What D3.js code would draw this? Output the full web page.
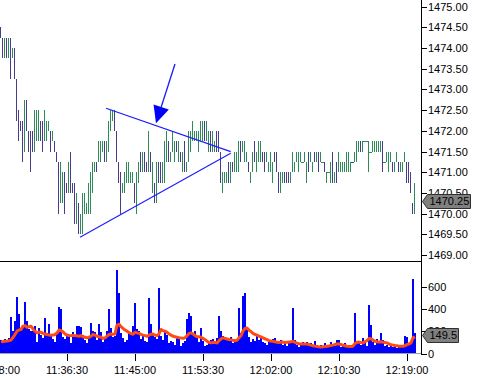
<!DOCTYPE html>
<html><head><meta charset="utf-8">
<script src="https://cdn.jsdelivr.net/npm/d3@7/dist/d3.min.js"></script>
<style>
html,body{margin:0;padding:0;background:#fff;}
svg{display:block;font-family:"Liberation Sans",Arial,sans-serif;}
</style></head>
<body><svg id="c" width="477" height="378"></svg>
<script>
// ---------- DATA ----------
const firstBarTime = "11:28:15";
const barSeconds = 15;
const highs = [
1474.50,1474.25,1474.25,1474.25,1474.25,1474.25,1474.00,1474.00,1473.25,1472.50,
1472.25,1472.25,1472.75,1472.75,1472.00,1472.00,1472.00,1472.50,1472.50,1472.50,
1472.25,1472.25,1472.50,1472.25,1472.25,1472.00,1472.00,1471.75,1471.50,1471.25,
1471.25,1471.00,1471.00,1470.75,1471.25,1471.50,1470.75,1470.75,1470.50,1470.25,
1470.00,1470.50,1470.50,1470.25,1470.75,1471.00,1471.25,1471.25,1471.25,1471.75,
1471.75,1471.75,1471.75,1471.75,1472.25,1472.50,1472.50,1472.50,1472.00,1471.25,
1471.00,1470.75,1471.00,1471.25,1471.25,1471.00,1471.00,1470.75,1471.00,1471.25,
1471.50,1471.50,1471.50,1471.25,1472.00,1471.50,1471.25,1470.75,1471.25,1471.25,
1471.25,1471.25,1471.75,1472.00,1471.75,1471.50,1472.00,1471.75,1471.75,1471.75,
1471.50,1471.50,1471.75,1471.25,1472.00,1472.00,1472.25,1472.00,1472.00,1472.00,
1472.25,1472.25,1472.25,1472.25,1472.00,1472.00,1472.00,1471.75,1472.00,1472.00,
1471.50,1471.00,1471.00,1471.00,1471.25,1471.25,1471.25,1471.50,1471.50,1471.75,
1471.75,1471.75,1471.75,1471.50,1471.25,1471.00,1471.50,1471.75,1471.50,1471.75,
1471.75,1471.50,1471.50,1471.50,1471.25,1471.50,1471.25,1471.50,1471.50,1471.00,
1471.00,1471.00,1471.00,1471.00,1471.00,1471.00,1471.50,1471.25,1471.50,1471.50,
1471.50,1471.25,1471.50,1471.25,1471.50,1471.50,1471.25,1471.50,1471.50,1471.50,
1471.50,1471.25,1471.25,1471.00,1471.00,1471.25,1471.50,1471.00,1471.25,1471.50,
1471.25,1471.25,1471.25,1471.50,1471.50,1471.25,1471.25,1471.50,1471.75,1471.75,
1471.75,1471.75,1471.75,1471.75,1471.75,1471.50,1471.75,1471.75,1471.75,1471.75,
1471.75,1471.75,1471.25,1471.50,1471.50,1471.50,1471.25,1471.25,1471.50,1471.25,
1471.25,1471.25,1471.50,1471.25,1471.25,1471.00,1470.25,1470.75];
const lows = [
1474.25,1473.75,1473.75,1473.75,1473.75,1473.25,1473.75,1473.25,1472.25,1471.75,
1472.00,1471.25,1471.50,1472.00,1471.50,1471.00,1471.50,1471.50,1471.75,1471.75,
1471.75,1471.50,1471.75,1471.75,1472.00,1471.50,1471.75,1471.50,1471.25,1470.00,
1470.25,1470.25,1470.00,1470.50,1470.50,1470.50,1470.50,1469.75,1469.75,1469.50,
1469.50,1469.50,1470.00,1470.00,1470.00,1470.00,1470.50,1471.00,1471.00,1471.25,
1471.25,1471.50,1471.25,1471.25,1471.50,1472.00,1472.25,1472.00,1471.25,1470.75,
1470.00,1470.50,1470.50,1470.75,1470.75,1470.75,1470.75,1470.25,1470.00,1470.75,
1471.00,1471.00,1471.00,1471.00,1471.00,1471.00,1470.50,1470.25,1470.25,1470.75,
1470.75,1470.75,1470.75,1471.25,1471.25,1471.25,1471.50,1471.25,1471.50,1471.25,
1471.25,1471.00,1471.00,1471.00,1471.25,1471.50,1471.75,1471.75,1471.75,1471.50,
1471.75,1471.75,1471.75,1471.75,1471.50,1471.50,1471.50,1471.50,1471.50,1471.50,
1470.75,1470.50,1470.75,1470.75,1470.75,1470.75,1471.00,1471.00,1471.00,1471.00,
1471.25,1471.50,1471.25,1471.25,1471.00,1470.75,1471.00,1471.25,1471.00,1471.25,
1471.25,1471.25,1471.00,1471.25,1471.00,1471.00,1470.75,1471.25,1471.00,1470.50,
1470.50,1470.75,1470.75,1470.75,1470.75,1470.75,1471.00,1471.00,1471.25,1471.00,
1471.25,1471.25,1471.25,1470.75,1471.00,1471.25,1471.00,1471.25,1471.25,1471.00,
1471.25,1471.25,1471.00,1470.75,1471.00,1470.75,1470.75,1470.75,1470.75,1471.00,
1471.00,1471.00,1471.00,1471.00,1471.00,1471.00,1471.25,1471.25,1471.25,1471.50,
1471.50,1471.50,1471.75,1471.75,1471.00,1471.50,1471.50,1471.50,1471.50,1471.50,
1471.50,1471.00,1471.25,1471.25,1471.00,1471.25,1471.00,1471.00,1471.25,1471.00,
1471.00,1471.00,1471.25,1470.75,1470.75,1470.50,1470.00,1470.00];
// direction per bar: u = close up (green), d = close down (purple)
const barDirections = [
"d","d","u","d","u","d","u","d","d","d",
"d","d","u","d","d","d","d","u","u","u",
"d","d","u","u","u","d","u","d","d","d",
"u","u","d","d","u","d","d","d","u","d",
"u","u","u","u","u","u","u","u","d","u",
"u","u","d","u","u","u","u","d","d","d",
"d","u","u","u","u","u","u","d","u","u",
"d","u","d","d","u","d","u","d","u","d",
"d","u","u","u","d","u","u","u","d","u",
"d","u","d","u","u","u","u","u","u","u",
"u","u","d","u","u","d","u","u","d","d",
"d","u","u","u","d","u","d","u","u","u",
"d","u","u","u","d","u","u","d","u","u",
"u","d","d","u","u","u","u","d","d","d",
"u","u","d","d","d","u","u","u","u","u",
"u","u","u","u","d","u","u","d","u","d",
"u","u","d","u","u","u","d","u","d","u",
"u","u","u","u","u","u","d","u","u","u",
"d","u","u","u","u","u","u","u","u","u",
"u","d","u","u","u","u","d","u","u","d",
"u","u","u","d","d","d","d","u"];
const volumes = [
120,110,130,100,140,330,200,290,510,350,
230,250,465,290,215,200,200,245,100,230,
170,140,320,180,260,160,130,100,180,415,
400,150,130,170,150,90,190,160,245,245,
240,170,120,90,150,275,200,190,120,260,
190,100,130,200,395,230,150,160,752,540,
180,140,100,120,190,170,250,455,220,200,
130,170,110,100,500,260,180,150,130,590,
160,120,190,170,90,110,100,80,150,130,
70,90,110,305,365,335,170,200,140,100,
230,110,70,80,100,120,130,90,140,335,
200,160,140,120,130,150,90,110,120,410,
180,513,543,233,150,100,130,110,170,120,
140,100,90,80,100,120,130,140,110,100,
120,80,90,70,110,100,410,120,80,60,
90,100,80,100,70,90,80,110,70,60,
80,70,90,60,80,100,80,70,125,120,
60,70,90,80,60,70,80,364,90,100,
80,140,90,70,438,253,100,80,130,90,
188,120,70,80,60,70,60,80,50,70,
60,80,155,150,90,100,671,188];
const volumeAverage = [
105,107,110,112,115,120,145,170,200,210,
215,245,250,235,240,245,220,200,185,190,
190,180,175,170,165,163,165,170,185,210,
205,195,175,165,162,160,162,160,158,155,
160,150,145,140,145,155,170,165,155,150,
145,135,140,155,170,175,172,175,255,262,
240,225,210,200,188,178,172,190,185,180,
172,165,160,155,165,172,175,165,160,175,
215,205,200,190,175,165,155,150,145,142,
140,135,140,160,180,185,175,160,150,150,
145,135,125,110,100,95,100,98,95,115,
130,140,135,130,125,122,118,115,118,140,
160,200,225,228,210,195,180,170,165,155,
148,140,132,125,115,112,110,105,100,98,
100,102,98,100,102,105,110,100,92,88,
85,86,86,84,80,75,70,66,63,60,
58,60,62,65,68,72,75,80,85,87,
80,75,70,65,62,62,65,90,100,102,
98,95,105,115,135,132,120,110,105,102,
105,102,98,95,85,78,75,72,70,66,
65,65,70,80,85,95,140,149.5];
const priceTicks = [1469.0,1469.5,1470.0,1470.5,1471.0,1471.5,1472.0,1472.5,1473.0,1473.5,1474.0,1474.5,1475.0];
const volumeTicks = [0,200,400,600];
const timeTicks = ["11:28:00","11:36:30","11:45:00","11:53:30","12:02:00","12:10:30","12:19:00"];
const lastPrice = 1470.25;
const lastAverage = 149.5;
// drawn annotations (time, price)
const trendUpper = [["11:41:26.25",1472.546],["11:57:01.5",1471.498]];
const trendLower = [["11:38:11.25",1469.43],["11:57:01.5",1471.459]];
const arrowPts = [["11:50:03.75",1473.616],["11:47:41.25",1472.184]];

// ---------- DRAW ----------
const parseT = s => { const p = s.split(":"); return new Date(2000,0,1,+p[0],+p[1],0,Math.round(+p[2]*1000)); };
const t0 = parseT(firstBarTime);
const barTime = i => new Date(t0.getTime() + i*barSeconds*1000);

const svg = d3.select("#c");
svg.append("rect").attr("width",477).attr("height",378).attr("fill","#fff");

const axisX = 421.5;
const x = d3.scaleTime().domain([parseT("11:28:11.25"), parseT("12:20:48.75")]).range([0,421]);
const yP = d3.scaleLinear().domain([1469,1475]).range([255,6.7]);
const yV = d3.scaleLinear().domain([0,600]).range([353.5,286.5]);

const GREEN="#2e8b57", PURPLE="#483d8b";

// price bars
const gP = svg.append("g").attr("shape-rendering","crispEdges");
highs.forEach((h,i)=>{
  const l = lows[i];
  const px = Math.floor(x(barTime(i)));
  const col = barDirections[i]==="u"?GREEN:PURPLE;
  if (h===l) {
    gP.append("rect").attr("x",px-1).attr("y",Math.round(yP(h))).attr("width",3).attr("height",1).attr("fill",col);
  } else {
    const y1 = Math.round(yP(h)), y2 = Math.round(yP(l));
    gP.append("rect").attr("x",px).attr("y",y1).attr("width",1).attr("height",y2-y1).attr("fill",col);
  }
});

// trend lines
const line2 = d3.line().x(d=>x(parseT(d[0]))).y(d=>yP(d[1]));
[trendUpper,trendLower].forEach(t=>{
  svg.append("path").attr("d",line2(t)).attr("fill","none").attr("stroke","#1a1aff").attr("stroke-width",1.1);
});
// arrow
{
  const a = arrowPts.map(d=>[x(parseT(d[0])), yP(d[1])]);
  const dx=a[1][0]-a[0][0], dy=a[1][1]-a[0][1], L=Math.hypot(dx,dy), ux=dx/L, uy=dy/L;
  const hl=17, hw=8;
  const bx=a[1][0]-ux*hl, by=a[1][1]-uy*hl;
  svg.append("line").attr("x1",a[0][0]).attr("y1",a[0][1]).attr("x2",bx).attr("y2",by)
    .attr("stroke","#1a1aff").attr("stroke-width",1.3);
  svg.append("path").attr("d",`M${a[1][0]},${a[1][1]}L${bx-uy*hw},${by+ux*hw}L${bx+uy*hw},${by-ux*hw}Z`)
    .attr("fill","#0000ff");
}

// separator
svg.append("line").attr("x1",0).attr("x2",axisX).attr("y1",261.5).attr("y2",261.5)
  .attr("stroke","#000").attr("shape-rendering","crispEdges");

// volume bars
const gV = svg.append("g").attr("shape-rendering","crispEdges");
volumes.forEach((v,i)=>{
  const px = Math.floor(x(barTime(i)));
  gV.append("rect").attr("x",px).attr("y",yV(v)).attr("width",2).attr("height",yV(0)-yV(v)).attr("fill","#0000ff");
});
// average line
svg.append("path").datum(volumeAverage)
  .attr("d",d3.line().x((d,i)=>x(barTime(i))+0.5).y(d=>yV(d)))
  .attr("fill","none").attr("stroke","#ff4a12").attr("stroke-width",3).attr("stroke-linejoin","round");

// bottom axis line
svg.append("line").attr("x1",0).attr("x2",axisX).attr("y1",353.5).attr("y2",353.5)
  .attr("stroke","#a0a0a0").attr("stroke-width",1.5).attr("shape-rendering","crispEdges");

// time axis
const gX = svg.append("g").attr("transform","translate(0,354)")
  .call(d3.axisBottom(x).tickValues(timeTicks.map(parseT)).tickFormat(d3.timeFormat("%H:%M:%S")).tickSize(7).tickPadding(5));
gX.select(".domain").remove();
gX.selectAll("text").attr("font-size",11).attr("font-family","Liberation Sans, Arial, sans-serif").attr("fill","#000");
gX.selectAll("line").attr("shape-rendering","crispEdges");

// right axis line
svg.append("line").attr("x1",axisX).attr("x2",axisX).attr("y1",0).attr("y2",355)
  .attr("stroke","#000").attr("shape-rendering","crispEdges");

const gY = svg.append("g").attr("transform",`translate(${axisX},0)`)
  .call(d3.axisRight(yP).tickValues(priceTicks).tickFormat(d3.format(".2f")).tickSize(5).tickPadding(1.5));
const gY2 = svg.append("g").attr("transform",`translate(${axisX},0)`)
  .call(d3.axisRight(yV).tickValues(volumeTicks).tickFormat(d3.format("d")).tickSize(5).tickPadding(1.5));
[gY,gY2].forEach(g=>{
  g.select(".domain").remove();
  g.selectAll("text").attr("font-size",11).attr("font-family","Liberation Sans, Arial, sans-serif").attr("fill","#000");
  g.selectAll("line").attr("shape-rendering","crispEdges");
});

// value tags (drawn over the axis labels they cover, as in the reference)
function tag(yc, w, label){
  const x0 = axisX+1, h = 14;
  svg.append("path")
    .attr("d",`M${x0},${yc}L${x0+5},${yc-h/2}L${x0+5+w},${yc-h/2}L${x0+5+w},${yc+h/2}L${x0+5},${yc+h/2}Z`)
    .attr("fill","#808080").attr("stroke","#303030").attr("stroke-width",1);
  svg.append("text").attr("x",x0+7).attr("y",yc).attr("dy","0.36em")
    .attr("font-size",11).attr("fill","#000").text(label);
}
tag(Math.round(yP(lastPrice))-1.5, 43, d3.format(".2f")(lastPrice));
tag(Math.round(yV(lastAverage))-1.5, 31, String(lastAverage));
</script>
</body></html>
